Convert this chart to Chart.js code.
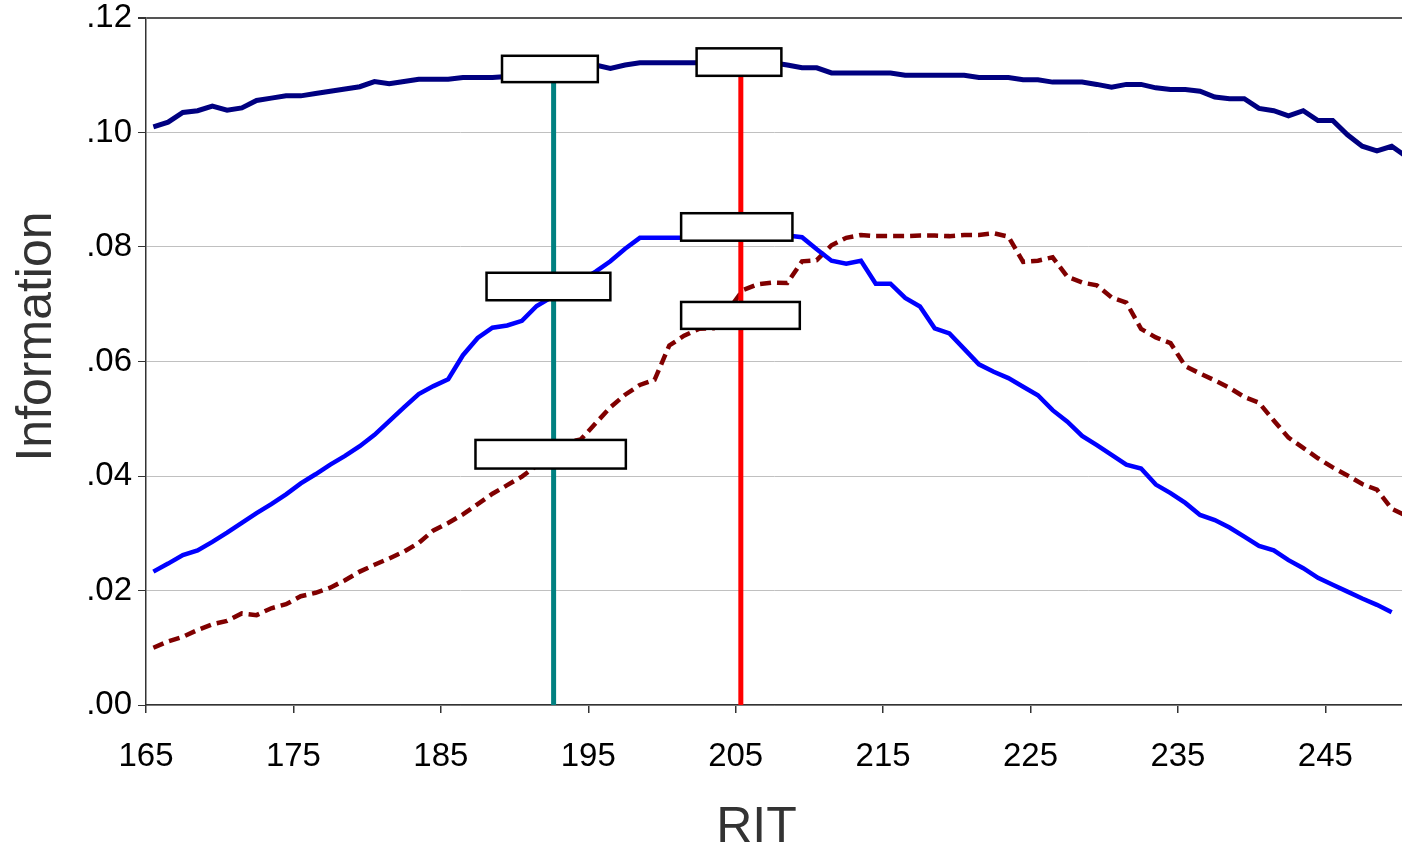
<!DOCTYPE html>
<html>
<head>
<meta charset="utf-8">
<title>Information by RIT</title>
<script src="https://cdn.jsdelivr.net/npm/chart.js"></script>
<style>
  html, body { margin: 0; padding: 0; background: #fff; }
  #wrap { width: 1402px; height: 846px; }
</style>
</head>
<body>
<div id="wrap"><canvas id="infoChart" width="1402" height="846"></canvas></div>
<script>
// RIT scale points (one per unit)
const rit = [
  165.5, 166.5, 167.5, 168.5, 169.5, 170.5, 171.5, 172.5, 173.5, 174.5,
  175.5, 176.5, 177.5, 178.5, 179.5, 180.5, 181.5, 182.5, 183.5, 184.5,
  185.5, 186.5, 187.5, 188.5, 189.5, 190.5, 191.5, 192.5, 193.5, 194.5,
  195.5, 196.5, 197.5, 198.5, 199.5, 200.5, 201.5, 202.5, 203.5, 204.5,
  205.5, 206.5, 207.5, 208.5, 209.5, 210.5, 211.5, 212.5, 213.5, 214.5,
  215.5, 216.5, 217.5, 218.5, 219.5, 220.5, 221.5, 222.5, 223.5, 224.5,
  225.5, 226.5, 227.5, 228.5, 229.5, 230.5, 231.5, 232.5, 233.5, 234.5,
  235.5, 236.5, 237.5, 238.5, 239.5, 240.5, 241.5, 242.5, 243.5, 244.5,
  245.5, 246.5, 247.5, 248.5, 249.5, 250.5
];

// top navy line
const infoTotal = [
  0.1010, 0.1018, 0.1035, 0.1038, 0.1046, 0.1039, 0.1043, 0.1056, 0.1060, 0.1064,
  0.1064, 0.1068, 0.1072, 0.1076, 0.1080, 0.1089, 0.1085, 0.1089, 0.1093, 0.1093,
  0.1093, 0.1096, 0.1096, 0.1096, 0.1098, 0.1100, 0.1104, 0.1108, 0.1112, 0.1116,
  0.1118, 0.1112, 0.1118, 0.1122, 0.1122, 0.1122, 0.1122, 0.1122, 0.1122, 0.1122,
  0.1122, 0.1122, 0.1122, 0.1118, 0.1113, 0.1113, 0.1104, 0.1104, 0.1104, 0.1104,
  0.1104, 0.1100, 0.1100, 0.1100, 0.1100, 0.1100, 0.1096, 0.1096, 0.1096, 0.1092,
  0.1092, 0.1088, 0.1088, 0.1088, 0.1084, 0.1079, 0.1084, 0.1084, 0.1078, 0.1075,
  0.1075, 0.1072, 0.1062, 0.1059, 0.1059, 0.1042, 0.1038, 0.1029, 0.1038, 0.1021,
  0.1021, 0.0996, 0.0976, 0.0968, 0.0976, 0.0958
];

// solid blue line
const infoLow = [
  0.0233, 0.0247, 0.0262, 0.0270, 0.0285, 0.0301, 0.0318, 0.0335, 0.0351, 0.0368,
  0.0387, 0.0403, 0.0420, 0.0435, 0.0452, 0.0472, 0.0496, 0.0520, 0.0543, 0.0557,
  0.0569, 0.0611, 0.0641, 0.0659, 0.0663, 0.0671, 0.0697, 0.0712, 0.0727, 0.0741,
  0.0757, 0.0775, 0.0797, 0.0816, 0.0816, 0.0816, 0.0816, 0.0817, 0.0818, 0.0819,
  0.0820, 0.0820, 0.0820, 0.0820, 0.0817, 0.0796, 0.0776, 0.0771, 0.0776, 0.0736,
  0.0736, 0.0711, 0.0696, 0.0658, 0.0649, 0.0622, 0.0595, 0.0582, 0.0571, 0.0556,
  0.0541, 0.0515, 0.0495, 0.0470, 0.0454, 0.0437, 0.0420, 0.0413, 0.0385, 0.0370,
  0.0353, 0.0332, 0.0323, 0.0310, 0.0294, 0.0278, 0.0270, 0.0253, 0.0239, 0.0222,
  0.0210, 0.0198, 0.0186, 0.0175, 0.0162
];

// dashed dark red line
const infoHigh = [
  0.0100, 0.0111, 0.0119, 0.0131, 0.0141, 0.0147, 0.0160, 0.0157, 0.0169, 0.0176,
  0.0190, 0.0196, 0.0205, 0.0218, 0.0233, 0.0245, 0.0256, 0.0268, 0.0283, 0.0305,
  0.0318, 0.0333, 0.0351, 0.0369, 0.0384, 0.0399, 0.0418, 0.0440, 0.0458, 0.0464,
  0.0492, 0.0520, 0.0542, 0.0559, 0.0568, 0.0628, 0.0645, 0.0657, 0.0658, 0.0690,
  0.0725, 0.0735, 0.0738, 0.0737, 0.0775, 0.0777, 0.0803, 0.0816, 0.0821, 0.0819,
  0.0819, 0.0819, 0.0820, 0.0820, 0.0819, 0.0821, 0.0821, 0.0824, 0.0818, 0.0774,
  0.0776, 0.0782, 0.0748, 0.0738, 0.0733, 0.0712, 0.0703, 0.0657, 0.0642, 0.0632,
  0.0592, 0.0579, 0.0567, 0.0554, 0.0538, 0.0528, 0.0497, 0.0467, 0.0449, 0.0431,
  0.0415, 0.0401, 0.0386, 0.0376, 0.0343, 0.0330
];

const xTicks = [165, 175, 185, 195, 205, 215, 225, 235, 245];
const yTicks = [0, 0.02, 0.04, 0.06, 0.08, 0.10, 0.12];

// cut scores (vertical markers) and the height they reach
const cutLow = { rit: 192.65, top: 0.1088 };
const cutHigh = { rit: 205.35, top: 0.1099 };

// empty label boxes, in data units
const labelBoxes = [
  { x0: 189.15, x1: 195.65, y0: 0.1088, y1: 0.1134 },
  { x0: 202.35, x1: 208.1,  y0: 0.1099, y1: 0.1147 },
  { x0: 188.1,  x1: 196.5,  y0: 0.0707, y1: 0.0755 },
  { x0: 201.3,  x1: 208.85, y0: 0.0811, y1: 0.0859 },
  { x0: 201.3,  x1: 209.35, y0: 0.0657, y1: 0.0704 },
  { x0: 187.35, x1: 197.55, y0: 0.0413, y1: 0.0463 }
];

function pts(ys) {
  return ys.map((y, i) => ({ x: rit[i], y: y }));
}

const boxPlugin = {
  id: 'labelBoxes',
  afterDatasetsDraw(chart) {
    const { ctx, scales: { x, y } } = chart;
    ctx.save();
    ctx.fillStyle = '#ffffff';
    ctx.strokeStyle = '#000000';
    ctx.lineWidth = 2.5;
    labelBoxes.forEach(b => {
      const left = x.getPixelForValue(b.x0);
      const right = x.getPixelForValue(b.x1);
      const top = y.getPixelForValue(b.y1);
      const bottom = y.getPixelForValue(b.y0);
      ctx.fillRect(left, top, right - left, bottom - top);
      ctx.strokeRect(left, top, right - left, bottom - top);
    });
    ctx.restore();
  }
};

const font = "'Liberation Sans', Arial, sans-serif";

new Chart(document.getElementById('infoChart'), {
  type: 'line',
  data: {
    datasets: [
      {
        label: 'Cut low',
        data: [{ x: cutLow.rit, y: 0 }, { x: cutLow.rit, y: cutLow.top }],
        borderColor: '#008080',
        borderWidth: 5,
        pointRadius: 0
      },
      {
        label: 'Cut high',
        data: [{ x: cutHigh.rit, y: 0 }, { x: cutHigh.rit, y: cutHigh.top }],
        borderColor: '#ff0000',
        borderWidth: 5,
        pointRadius: 0
      },
      {
        label: 'Total',
        data: pts(infoTotal),
        borderColor: '#000080',
        borderWidth: 5,
        pointRadius: 0,
        tension: 0
      },
      {
        label: 'Low',
        data: pts(infoLow),
        borderColor: '#0000ff',
        borderWidth: 4.5,
        pointRadius: 0,
        tension: 0
      },
      {
        label: 'High',
        data: pts(infoHigh),
        borderColor: '#800000',
        borderWidth: 4.5,
        borderDash: [11, 6],
        pointRadius: 0,
        tension: 0
      }
    ]
  },
  options: {
    responsive: false,
    animation: false,
    devicePixelRatio: 1,
    layout: { padding: { top: 18, right: 0, bottom: 0, left: 0 } },
    plugins: {
      legend: { display: false },
      tooltip: { enabled: false }
    },
    scales: {
      x: {
        type: 'linear',
        min: 165,
        max: 250.2,
        afterBuildTicks: s => { s.ticks = xTicks.map(v => ({ value: v })); },
        afterFit: s => {
          s.height = 141;
          s.paddingLeft = 0;
          s.paddingRight = 0;
        },
        grid: {
          drawOnChartArea: false,
          drawTicks: true,
          tickLength: 8,
          tickColor: '#333333',
          lineWidth: 1.5
        },
        border: { color: '#333333', width: 1.5 },
        ticks: {
          color: '#000000',
          padding: 24,
          maxRotation: 0,
          font: { family: font, size: 33 }
        },
        title: {
          display: true,
          text: 'RIT\u2002\u2009',
          color: '#333333',
          font: { family: font, size: 50, lineHeight: 1 },
          padding: { top: 0, bottom: -7 }
        }
      },
      y: {
        min: 0,
        max: 0.12,
        afterBuildTicks: s => { s.ticks = yTicks.map(v => ({ value: v })); },
        afterFit: s => {
          s.width = 146;
          s.paddingTop = 0;
          s.paddingBottom = 0;
        },
        grid: {
          color: ctx => (ctx.tick && ctx.tick.value >= 0.119 ? '#555555' : '#c0c0c0'),
          lineWidth: ctx => (ctx.tick && ctx.tick.value >= 0.119 ? 2 : 1),
          tickLength: 8,
          tickColor: '#333333'
        },
        border: { color: '#333333', width: 1.5 },
        ticks: {
          color: '#000000',
          padding: 6,
          font: { family: font, size: 33 },
          callback: v => v.toFixed(2).replace(/^0/, '')
        },
        title: {
          display: true,
          text: '\u2002\u2002Information',
          color: '#333333',
          font: { family: font, size: 50, lineHeight: 1 },
          padding: { top: 12, bottom: 0 }
        }
      }
    }
  },
  plugins: [boxPlugin]
});
</script>
</body>
</html>
